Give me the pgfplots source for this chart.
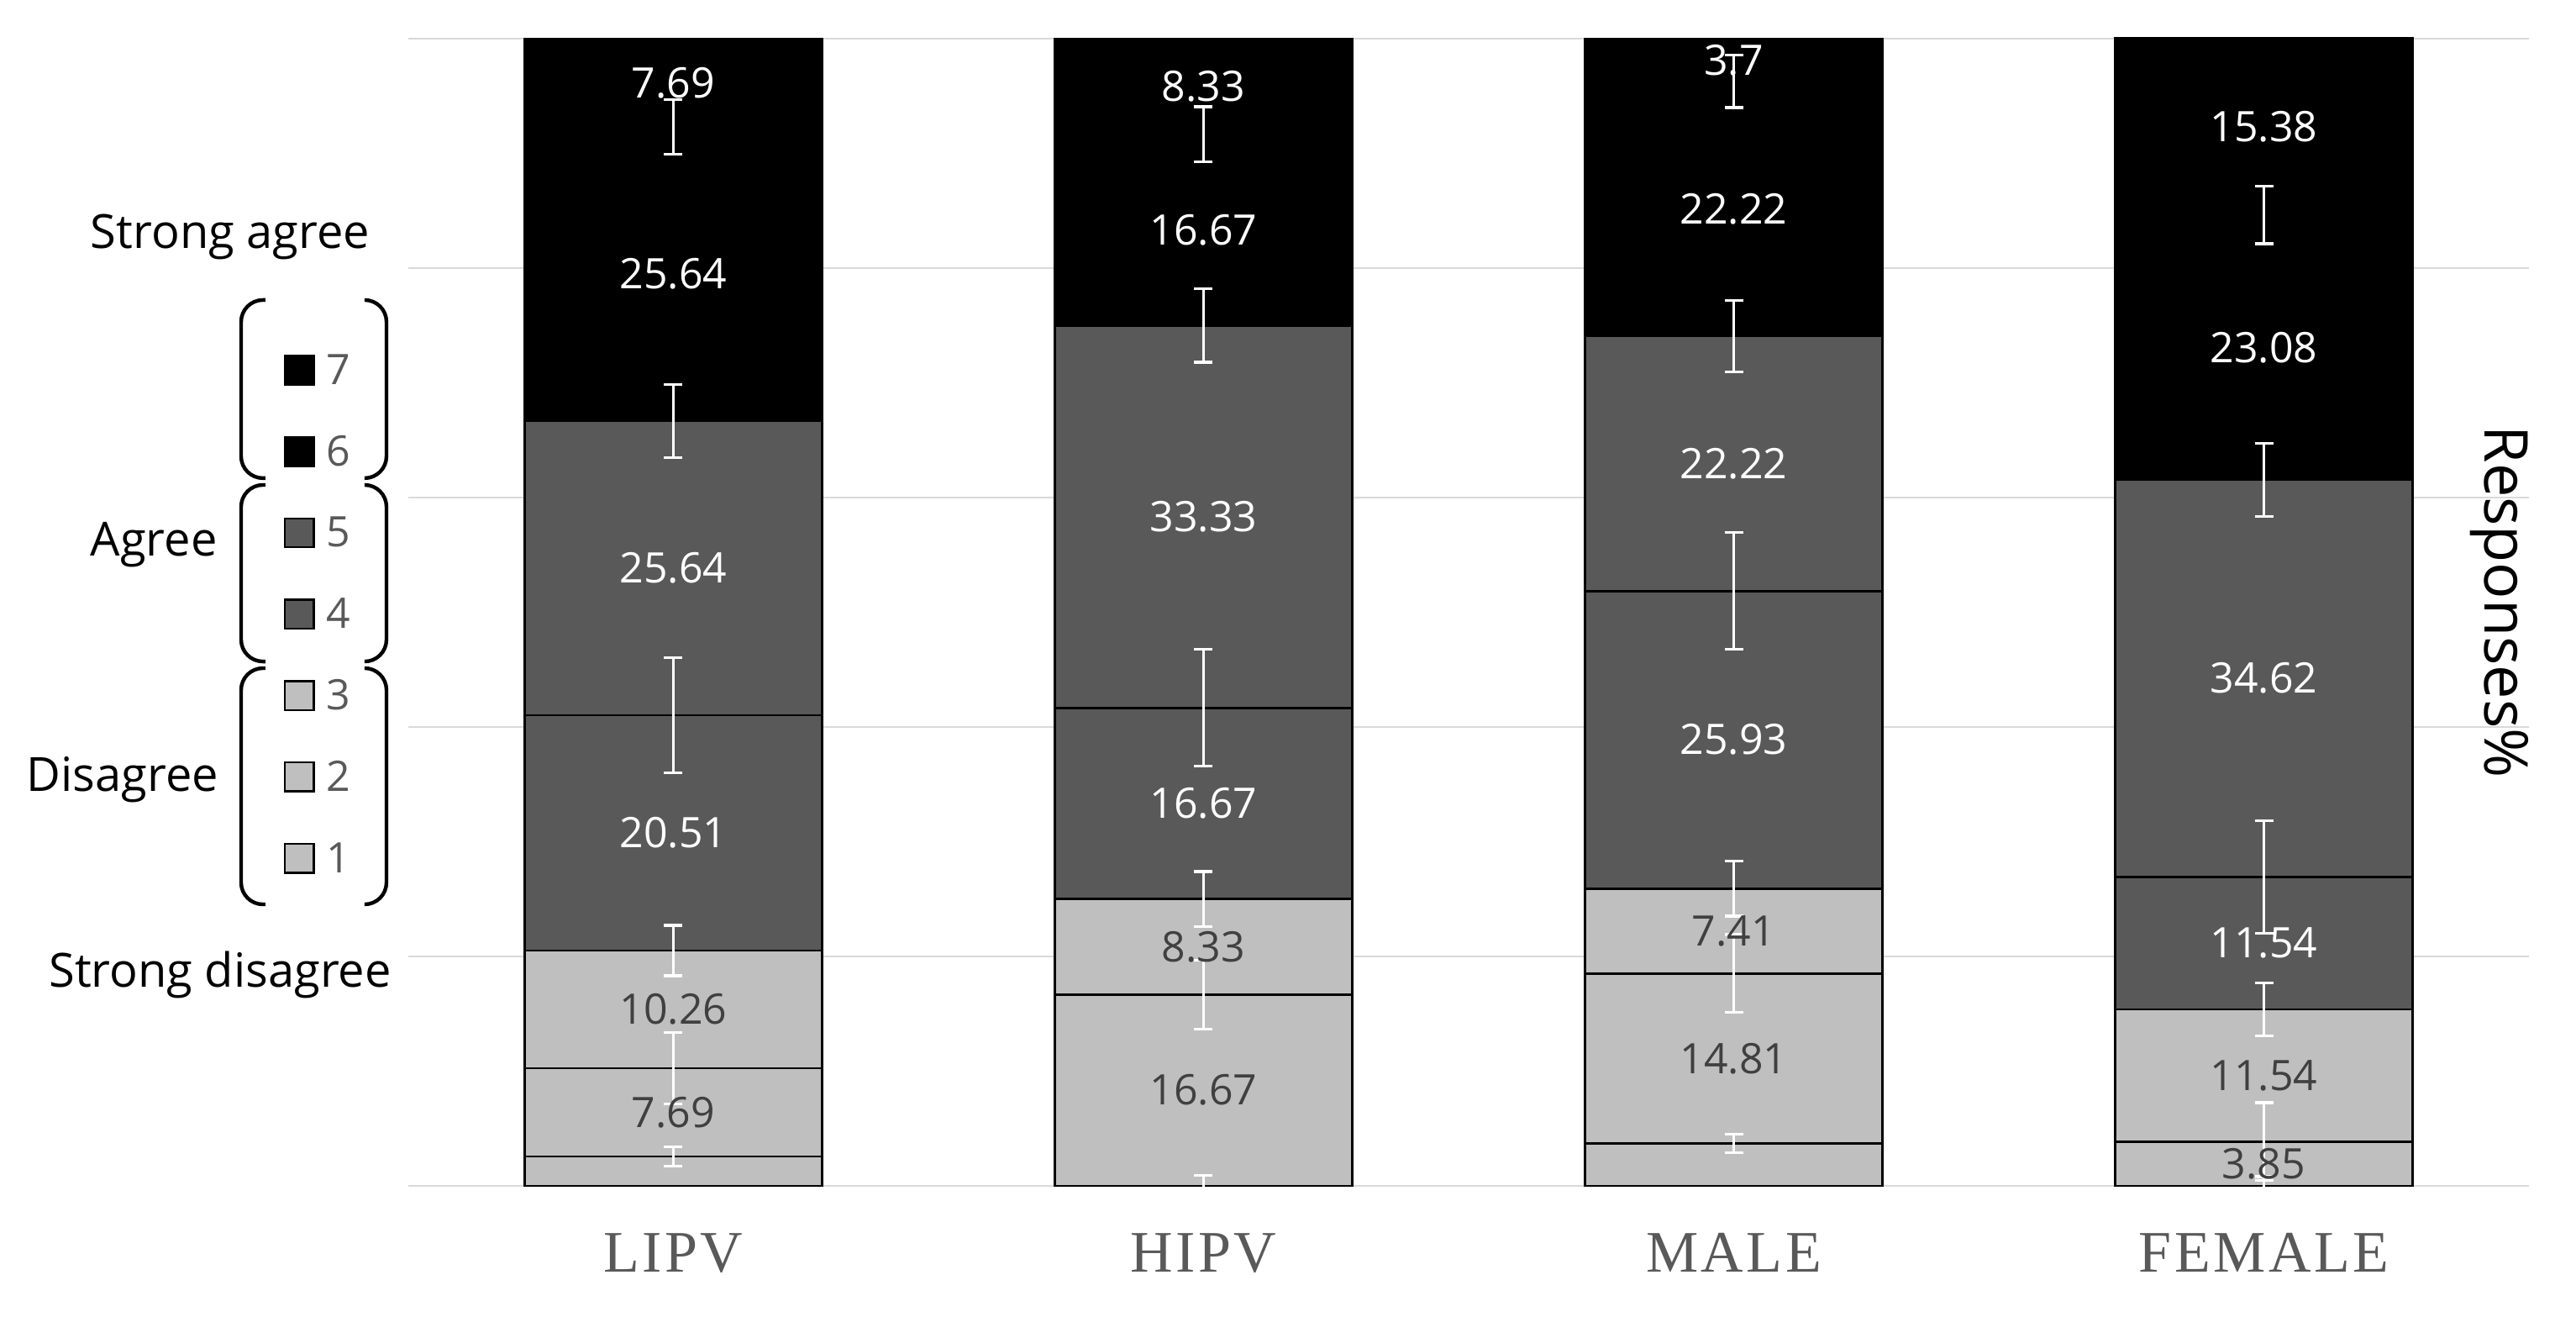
\documentclass[border=0pt]{standalone}
\usepackage{fontspec}
\setmainfont{Open Sans}
\setsansfont{Open Sans}
\newfontfamily\catfont{Liberation Serif}[LetterSpace=5]
\usepackage{pgfplots}
\usepackage{pgfplotstable}
\pgfplotsset{compat=1.18}
\definecolor{lgray}{HTML}{BFBFBF}
\definecolor{dgray}{HTML}{595959}
\definecolor{gridc}{HTML}{D9D9D9}
\definecolor{labgray}{HTML}{404040}
\definecolor{txtgray}{HTML}{595959}

\pgfplotstableread{
x s1 s2 s3 s4 s5 s6 s7
0 2.56 7.69 10.26 20.51 25.64 25.64 7.69
1 0 16.67 8.33 16.67 33.33 16.67 8.33
2 3.70 14.81 7.41 25.93 22.22 22.22 3.70
3 0 3.85 11.54 11.54 34.62 23.08 15.38
}\bars

\pgfplotstableread{
x y lab
0 6.405 7.69
0 15.38 10.26
1 8.335 16.67
1 20.835 8.33
2 11.105 14.81
2 22.215 7.41
3 1.925 3.85
3 9.62 11.54
}\glab

\pgfplotstableread{
x y lab
0 30.765 20.51
0 53.84 25.64
0 79.48 25.64
0 96.145 7.69
1 33.335 16.67
1 58.335 33.33
1 83.335 16.67
1 95.835 8.33
2 38.885 25.93
2 62.96 22.22
2 85.18 22.22
2 98.14 3.7
3 21.16 11.54
3 44.24 34.62
3 73.09 23.08
3 92.32 15.38
}\wlab

\pgfplotstableread{
x y e
0 2.56 0.85
1 0 0.9
2 3.70 0.8
3 0 0.8
0 10.25 3.1
1 16.67 3.0
2 18.51 3.4
3 3.85 3.4
0 20.51 2.2
1 25.00 2.4
2 25.92 2.4
3 15.39 2.3
0 41.02 5.0
1 41.67 5.1
2 51.85 5.1
3 26.93 4.9
0 66.66 3.2
1 75.00 3.2
2 74.07 3.1
3 61.55 3.2
0 92.30 2.4
1 91.67 2.4
2 96.29 2.3
3 84.63 2.5
}\errs

\begin{document}
\begin{tikzpicture}
\begin{axis}[name=ax, at={(0,0)}, anchor=south west,
  scale only axis, width=631pt, height=341.25pt,
  xmin=-0.5, xmax=3.5, ymin=0, ymax=100,
  ybar stacked, bar width=88.5pt,
  ytick={0,20,...,100}, yticklabels={},
  ymajorgrids, grid style={gridc, line width=0.5pt},
  xtick={0,1,2,3}, xticklabels={LIPV,HIPV,MALE,FEMALE},
  x tick label style={font=\catfont\fontsize{17.5pt}{17.5pt}\selectfont, text=txtgray, anchor=base, yshift=-25.5pt},
  axis line style={draw=none}, tick style={draw=none},
  clip=false,
  reverse legend,
  legend cell align=left,
  legend style={draw=none, fill=none, inner sep=0pt, outer sep=0pt,
    at={(-0.05864,0.7245)}, anchor=north west,
    row sep=15.0pt, column sep=3.5pt,
    font=\fontsize{12.5pt}{12.5pt}\selectfont, text=txtgray,
    cells={anchor=west},
    nodes={inner sep=0pt, text height=8.4pt, text depth=0pt}},
  legend image code/.code={\draw[#1, line width=0.6pt] (0pt,-4.3pt) rectangle (8.6pt,4.3pt);},
]
\addplot[fill=lgray, draw=black, line width=0.7pt] table[x=x,y=s1]{\bars};
\addplot[fill=lgray, draw=black, line width=0.7pt] table[x=x,y=s2]{\bars};
\addplot[fill=lgray, draw=black, line width=0.7pt] table[x=x,y=s3]{\bars};
\addplot[fill=dgray, draw=black, line width=0.7pt] table[x=x,y=s4]{\bars};
\addplot[fill=dgray, draw=black, line width=0.7pt] table[x=x,y=s5]{\bars};
\addplot[fill=black, draw=black, line width=0.7pt] table[x=x,y=s6]{\bars};
\addplot[fill=black, draw=black, line width=0.7pt] table[x=x,y=s7]{\bars};
\legend{1,2,3,4,5,6,7}
\end{axis}

\begin{axis}[at={(0,0)}, anchor=south west,
  scale only axis, width=631pt, height=341.25pt,
  xmin=-0.5, xmax=3.5, ymin=0, ymax=100,
  hide axis, clip=false]
\addplot[draw=none, mark=none, nodes near coords, point meta=explicit symbolic,
  nodes near coords align={center},
  every node near coord/.append style={anchor=center, inner sep=0pt, text=labgray, font=\fontsize{12.5pt}{12.5pt}\selectfont}]
  table[x=x,y=y,meta=lab]{\glab};
\addplot[draw=none, mark=none, nodes near coords, point meta=explicit symbolic,
  nodes near coords align={center},
  every node near coord/.append style={anchor=center, inner sep=0pt, text=white, font=\fontsize{12.5pt}{12.5pt}\selectfont}]
  table[x=x,y=y,meta=lab]{\wlab};
\addplot[draw=none, mark=none,
  error bars/.cd, y dir=both, y explicit,
  error mark=|,
  error bar style={draw=white, line width=0.8pt},
  error mark options={draw=white, line width=0.8pt, mark size=2.75pt}]
  table[x=x,y=y,y error=e]{\errs};

\node[anchor=base, font=\fontsize{14pt}{14pt}\selectfont] at (axis cs:-0.836,81.7) {Strong agree};
\node[anchor=base, font=\fontsize{14pt}{14pt}\selectfont] at (axis cs:-0.98,54.9) {Agree};
\node[anchor=base, font=\fontsize{14pt}{14pt}\selectfont] at (axis cs:-1.039,34.4) {Disagree};
\node[anchor=base, font=\fontsize{14pt}{14pt}\selectfont] at (axis cs:-0.855,17.3) {Strong disagree};
\node[anchor=base, rotate=-90, font=\fontsize{18pt}{18pt}\selectfont] at (axis cs:3.416,50.9) {Responses\%};

\draw[line width=1.1pt, rounded corners=6.5pt] (axis cs:-0.7694,77.22) -- (axis cs:-0.8154,77.22) -- (axis cs:-0.8154,61.69) -- (axis cs:-0.7694,61.69);
\draw[line width=1.1pt, rounded corners=6.5pt] (axis cs:-0.7694,61.10) -- (axis cs:-0.8154,61.10) -- (axis cs:-0.8154,45.71) -- (axis cs:-0.7694,45.71);
\draw[line width=1.1pt, rounded corners=6.5pt] (axis cs:-0.7694,45.13) -- (axis cs:-0.8154,45.13) -- (axis cs:-0.8154,24.54) -- (axis cs:-0.7694,24.54);
\draw[line width=1.1pt, rounded corners=6.5pt] (axis cs:-0.5824,77.22) -- (axis cs:-0.5412,77.22) -- (axis cs:-0.5412,61.69) -- (axis cs:-0.5824,61.69);
\draw[line width=1.1pt, rounded corners=6.5pt] (axis cs:-0.5824,61.10) -- (axis cs:-0.5412,61.10) -- (axis cs:-0.5412,45.71) -- (axis cs:-0.5824,45.71);
\draw[line width=1.1pt, rounded corners=6.5pt] (axis cs:-0.5824,45.13) -- (axis cs:-0.5412,45.13) -- (axis cs:-0.5412,24.54) -- (axis cs:-0.5824,24.54);
\end{axis}
\pgfresetboundingbox
\path[use as bounding box] ([shift={(-121.5pt,-38.75pt)}]ax.south west) rectangle ([shift={(14pt,11.5pt)}]ax.north east);
\end{tikzpicture}
\end{document}
